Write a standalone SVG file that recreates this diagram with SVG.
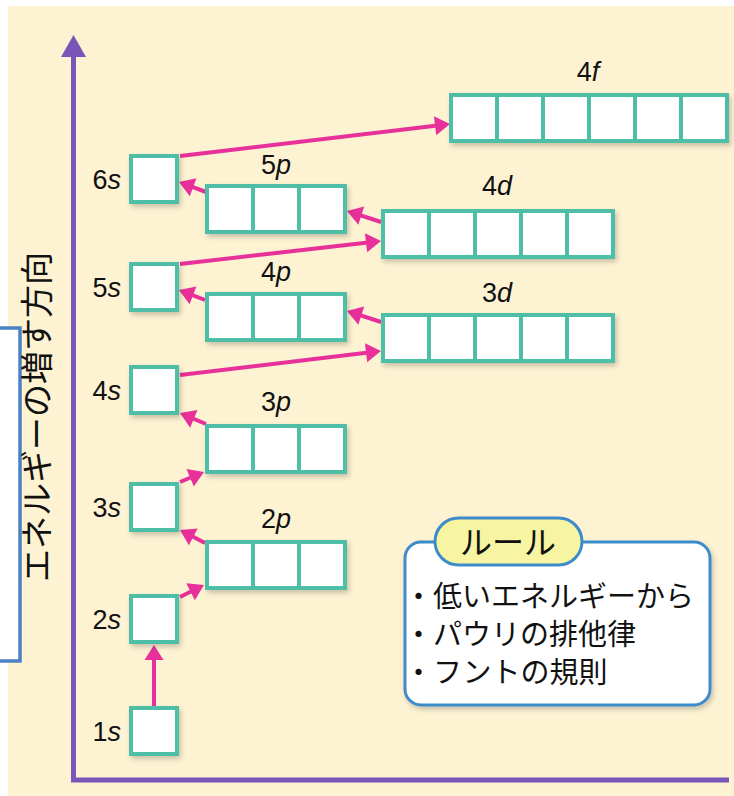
<svg xmlns="http://www.w3.org/2000/svg" width="734" height="796" viewBox="0 0 734 796">
<defs>
<style>
.bg{fill:#fdf3d3}
.box{fill:#ffffff;stroke:#4fbea6;stroke-width:4}
.div{stroke:#4fbea6;stroke-width:4}
.lbl{font-family:"Liberation Sans",Arial,sans-serif;font-size:27px;fill:#111}
.it{font-style:italic}
.arr{stroke:#e8309a;stroke-width:4;fill:none;marker-end:url(#ah)}
.jp{font-family:"Noto Sans CJK JP",sans-serif;fill:#111}
.axis{stroke:#7a54b8;stroke-width:5;fill:none}
</style>
<marker id="ah" markerUnits="userSpaceOnUse" markerWidth="20" markerHeight="22" viewBox="-1 -11 18 22" refX="11" refY="0" orient="auto">
<path d="M0,-9.5 L15,0 L0,9.5 z" fill="#e8309a"/>
</marker>
<filter id="sh" x="-10%" y="-10%" width="130%" height="140%">
<feDropShadow dx="2" dy="3" stdDeviation="2.5" flood-color="#000" flood-opacity="0.2"/>
</filter>
</defs>
<rect x="0" y="0" width="734" height="796" fill="#ffffff"/>
<rect class="bg" x="8" y="6" width="726" height="790"/>

<g id="side-box">
<rect x="-10" y="328" width="30" height="333" fill="#ffffff" stroke="#4a80c4" stroke-width="3.5"/>
</g>

<g id="axis">
<path class="axis" d="M73.5,57 L73.5,780 L729,780"/>
<path d="M61,57 L73.5,35 L86,57 z" fill="#7a54b8"/>
<text class="jp" font-size="33" text-anchor="middle" transform="translate(49,417) rotate(-90)">エネルギーの増す方向</text>
</g>

<g id="connectors">
<line class="arr" x1="154" y1="706" x2="154" y2="649"/>
<line class="arr" x1="180" y1="597" x2="200.4" y2="586.8"/>
<line class="arr" x1="205" y1="543" x2="183.5" y2="531.8"/>
<line class="arr" x1="180" y1="482" x2="200.3" y2="473.5"/>
<line class="arr" x1="206" y1="424" x2="183.7" y2="414.6"/>
<line class="arr" x1="180" y1="375" x2="377" y2="351.5"/>
<line class="arr" x1="381" y1="322" x2="350.8" y2="312.2"/>
<line class="arr" x1="205" y1="300" x2="182.7" y2="291.4"/>
<line class="arr" x1="180" y1="264" x2="377" y2="241.5"/>
<line class="arr" x1="381" y1="222" x2="350.8" y2="212.2"/>
<line class="arr" x1="206" y1="192" x2="182.8" y2="183.4"/>
<line class="arr" x1="180" y1="156" x2="446" y2="124.5"/>
</g>

<g id="n1s">
<rect class="box" filter="url(#sh)" x="131" y="708" width="46" height="46"/>
<text class="lbl" x="121" y="741" text-anchor="end">1<tspan class="it">s</tspan></text>
</g>
<g id="n2s">
<rect class="box" filter="url(#sh)" x="131" y="596" width="46" height="46"/>
<text class="lbl" x="121" y="629" text-anchor="end">2<tspan class="it">s</tspan></text>
</g>
<g id="n3s">
<rect class="box" filter="url(#sh)" x="131" y="484" width="46" height="46"/>
<text class="lbl" x="121" y="517" text-anchor="end">3<tspan class="it">s</tspan></text>
</g>
<g id="n4s">
<rect class="box" filter="url(#sh)" x="131" y="367" width="46" height="46"/>
<text class="lbl" x="121" y="400" text-anchor="end">4<tspan class="it">s</tspan></text>
</g>
<g id="n5s">
<rect class="box" filter="url(#sh)" x="131" y="264" width="46" height="46"/>
<text class="lbl" x="121" y="297" text-anchor="end">5<tspan class="it">s</tspan></text>
</g>
<g id="n6s">
<rect class="box" filter="url(#sh)" x="131" y="156" width="46" height="46"/>
<text class="lbl" x="121" y="189" text-anchor="end">6<tspan class="it">s</tspan></text>
</g>

<g id="n2p">
<rect class="box" filter="url(#sh)" x="207" y="542" width="138" height="46"/>
<line class="div" x1="253" y1="542" x2="253" y2="588"/>
<line class="div" x1="299" y1="542" x2="299" y2="588"/>
<text class="lbl" x="276" y="528" text-anchor="middle">2<tspan class="it">p</tspan></text>
</g>
<g id="n3p">
<rect class="box" filter="url(#sh)" x="207" y="426" width="138" height="46"/>
<line class="div" x1="253" y1="426" x2="253" y2="472"/>
<line class="div" x1="299" y1="426" x2="299" y2="472"/>
<text class="lbl" x="276" y="411" text-anchor="middle">3<tspan class="it">p</tspan></text>
</g>
<g id="n4p">
<rect class="box" filter="url(#sh)" x="207" y="294" width="138" height="46"/>
<line class="div" x1="253" y1="294" x2="253" y2="340"/>
<line class="div" x1="299" y1="294" x2="299" y2="340"/>
<text class="lbl" x="276" y="281" text-anchor="middle">4<tspan class="it">p</tspan></text>
</g>
<g id="n5p">
<rect class="box" filter="url(#sh)" x="207" y="186" width="138" height="46"/>
<line class="div" x1="253" y1="186" x2="253" y2="232"/>
<line class="div" x1="299" y1="186" x2="299" y2="232"/>
<text class="lbl" x="276" y="174" text-anchor="middle">5<tspan class="it">p</tspan></text>
</g>

<g id="n3d">
<rect class="box" filter="url(#sh)" x="383" y="315" width="230" height="46"/>
<line class="div" x1="429" y1="315" x2="429" y2="361"/>
<line class="div" x1="475" y1="315" x2="475" y2="361"/>
<line class="div" x1="521" y1="315" x2="521" y2="361"/>
<line class="div" x1="567" y1="315" x2="567" y2="361"/>
<text class="lbl" x="497" y="302" text-anchor="middle">3<tspan class="it">d</tspan></text>
</g>
<g id="n4d">
<rect class="box" filter="url(#sh)" x="383" y="211" width="230" height="46"/>
<line class="div" x1="429" y1="211" x2="429" y2="257"/>
<line class="div" x1="475" y1="211" x2="475" y2="257"/>
<line class="div" x1="521" y1="211" x2="521" y2="257"/>
<line class="div" x1="567" y1="211" x2="567" y2="257"/>
<text class="lbl" x="497" y="195" text-anchor="middle">4<tspan class="it">d</tspan></text>
</g>

<g id="n4f">
<rect class="box" filter="url(#sh)" x="451" y="95" width="276" height="46"/>
<line class="div" x1="497" y1="95" x2="497" y2="141"/>
<line class="div" x1="543" y1="95" x2="543" y2="141"/>
<line class="div" x1="589" y1="95" x2="589" y2="141"/>
<line class="div" x1="635" y1="95" x2="635" y2="141"/>
<line class="div" x1="681" y1="95" x2="681" y2="141"/>
<text class="lbl" x="588" y="81" text-anchor="middle">4<tspan class="it">f</tspan></text>
</g>

<g id="rules">
<rect x="405" y="542" width="305" height="163" rx="16" fill="#ffffff" stroke="#3d8bc9" stroke-width="3" filter="url(#sh)"/>
<rect x="435" y="518" width="147" height="47" rx="23.5" fill="#f8f5a2" stroke="#3d8bc9" stroke-width="3"/>
<text class="jp" x="508" y="554" font-size="32" text-anchor="middle">ルール</text>
<text class="jp" x="404" y="607" font-size="29">・低いエネルギーから</text>
<text class="jp" x="404" y="645" font-size="29">・パウリの排他律</text>
<text class="jp" x="404" y="683" font-size="29">・フントの規則</text>
</g>
</svg>
